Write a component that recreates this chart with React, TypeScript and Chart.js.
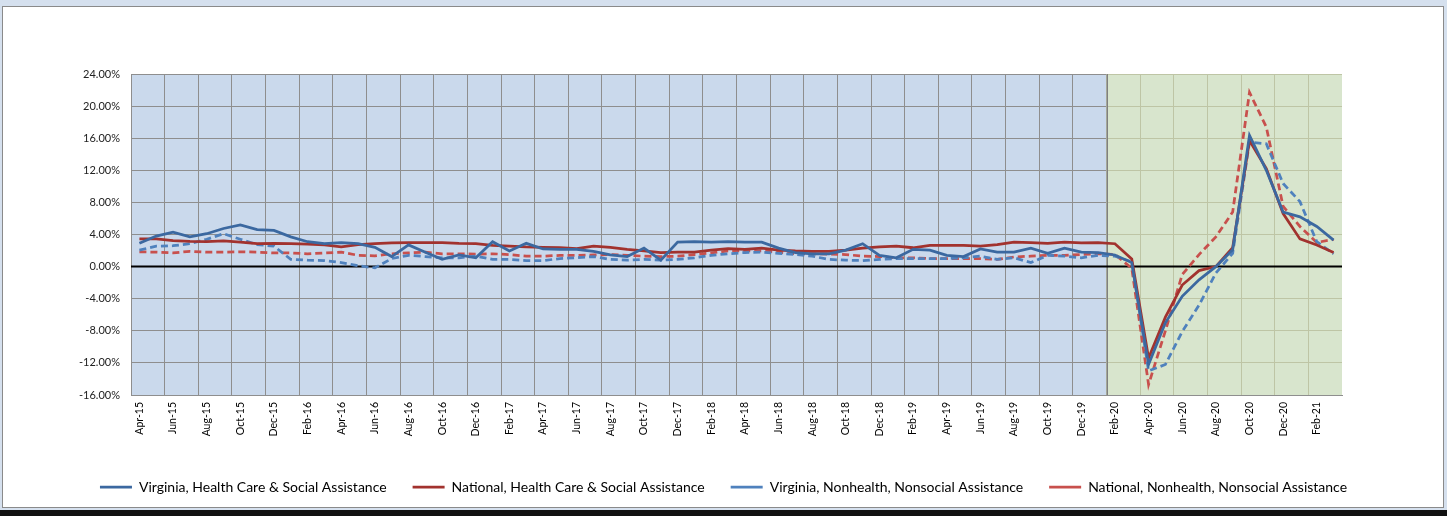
import React, { useEffect, useRef } from 'react';
import { Chart, registerables } from 'chart.js';

Chart.register(...registerables);

const categories: string[] = [
  'Apr-15','May-15','Jun-15','Jul-15','Aug-15','Sep-15','Oct-15','Nov-15','Dec-15',
  'Jan-16','Feb-16','Mar-16','Apr-16','May-16','Jun-16','Jul-16','Aug-16','Sep-16','Oct-16','Nov-16','Dec-16',
  'Jan-17','Feb-17','Mar-17','Apr-17','May-17','Jun-17','Jul-17','Aug-17','Sep-17','Oct-17','Nov-17','Dec-17',
  'Jan-18','Feb-18','Mar-18','Apr-18','May-18','Jun-18','Jul-18','Aug-18','Sep-18','Oct-18','Nov-18','Dec-18',
  'Jan-19','Feb-19','Mar-19','Apr-19','May-19','Jun-19','Jul-19','Aug-19','Sep-19','Oct-19','Nov-19','Dec-19',
  'Jan-20','Feb-20','Mar-20','Apr-20','May-20','Jun-20','Jul-20','Aug-20','Sep-20','Oct-20','Nov-20','Dec-20',
  'Jan-21','Feb-21','Mar-21',
];

const shadeStart = 'Feb-20';

const vaHealth: number[] = [
  2.9, 3.8, 4.3, 3.7, 4.1, 4.75, 5.2, 4.6, 4.5, 3.7, 3.1, 2.85, 3.0, 2.85, 2.4,
  1.25, 2.7, 1.8, 0.9, 1.45, 1.1, 3.1, 1.95, 2.9, 2.2, 2.15, 2.15, 1.9, 1.45,
  1.25, 2.3, 0.8, 3.05, 3.1, 3.05, 3.1, 3.05, 3.05, 2.3, 1.75, 1.6, 1.6, 2.05,
  2.85, 1.4, 1.1, 2.15, 2.05, 1.4, 1.25, 2.2, 1.8, 1.8, 2.3, 1.65, 2.3, 1.8, 1.75,
  1.45, 0.5, -12.2, -7.0, -3.7, -1.65, 0.0, 2.1, 16.35, 12.0, 6.8, 6.2, 5.0, 3.3,
];

const natHealth: number[] = [
  3.45, 3.45, 3.25, 3.15, 3.1, 3.2, 3.05, 2.85, 2.9, 2.85, 2.8, 2.7, 2.45, 2.75, 2.85,
  2.95, 3.0, 3.0, 3.0, 2.9, 2.85, 2.65, 2.55, 2.45, 2.4, 2.35, 2.25, 2.55, 2.4,
  2.15, 1.95, 1.75, 1.8, 1.8, 2.05, 2.25, 2.15, 2.3, 2.05, 1.95, 1.9, 1.9, 2.05,
  2.3, 2.45, 2.55, 2.35, 2.65, 2.65, 2.65, 2.55, 2.75, 3.05, 3.0, 2.9, 3.05, 2.95, 3.0,
  2.85, 0.95, -11.4, -6.3, -2.3, -0.5, 0.0, 2.35, 15.7, 12.2, 6.6, 3.45, 2.7, 1.75,
];

const vaNonhealth: number[] = [
  2.05, 2.55, 2.6, 2.85, 3.4, 4.1, 3.4, 2.75, 2.55, 0.9, 0.8, 0.75, 0.5, 0.1, -0.15,
  1.0, 1.4, 1.25, 1.1, 1.1, 1.3, 0.9, 0.9, 0.75, 0.75, 1.0, 1.1, 1.25, 0.9,
  0.8, 0.9, 0.8, 0.9, 1.1, 1.4, 1.6, 1.75, 1.8, 1.65, 1.5, 1.3, 0.9, 0.8,
  0.75, 0.9, 1.0, 1.0, 1.0, 1.0, 1.1, 1.3, 0.9, 1.1, 0.5, 1.4, 1.3, 1.1, 1.4,
  1.3, 0.6, -13.0, -12.2, -8.1, -4.8, -0.8, 1.65, 15.5, 15.3, 10.35, 8.1, 3.1, 1.6,
];

const natNonhealth: number[] = [
  1.85, 1.8, 1.7, 1.9, 1.8, 1.8, 1.85, 1.8, 1.7, 1.7, 1.6, 1.7, 1.8, 1.4, 1.35,
  1.6, 1.7, 1.8, 1.6, 1.6, 1.55, 1.6, 1.5, 1.3, 1.3, 1.4, 1.4, 1.45, 1.5,
  1.4, 1.3, 1.25, 1.3, 1.5, 1.7, 1.95, 1.95, 1.95, 1.8, 1.6, 1.6, 1.55, 1.5,
  1.3, 1.25, 1.1, 1.1, 1.0, 1.0, 1.0, 1.0, 0.9, 1.2, 1.3, 1.4, 1.4, 1.5, 1.6,
  1.5, -0.2, -14.7, -8.0, -1.0, 1.5, 3.7, 6.8, 21.7, 17.4, 7.5, 5.0, 3.0, 3.4,
];

const seriesNames = [
  'Virginia, Health Care & Social Assistance',
  'National, Health Care & Social Assistance',
  'Virginia, Nonhealth, Nonsocial Assistance',
  'National, Nonhealth, Nonsocial Assistance',
];

const yTicks = { min: -16, max: 24, step: 4 };

const BLUE_BG = '#CAD9EC';
const GREEN_OVERLAY = 'rgba(226,238,182,0.58)';
const GRID = '#8E8E8E';
const FONT = 'Lato, "Open Sans", sans-serif';

const regionPlugin = {
  id: 'regionShade',
  beforeDraw(chart: any) {
    const { ctx, chartArea: a } = chart;
    ctx.save();
    ctx.fillStyle = BLUE_BG;
    ctx.fillRect(a.left, a.top, a.right - a.left, a.bottom - a.top);
    ctx.restore();
  },
  beforeDatasetsDraw(chart: any) {
    const { ctx, chartArea: a } = chart;
    const x = chart.scales.x;
    const y = chart.scales.y;
    const idx = categories.indexOf(shadeStart);
    const bx = (x.getPixelForValue(idx - 1) + x.getPixelForValue(idx)) / 2;
    ctx.save();
    ctx.fillStyle = GREEN_OVERLAY;
    ctx.fillRect(bx, a.top, a.right - bx, a.bottom - a.top);
    ctx.strokeStyle = '#7f7f7f';
    ctx.lineWidth = 1;
    ctx.beginPath();
    ctx.moveTo(Math.round(bx) + 0.5, a.top);
    ctx.lineTo(Math.round(bx) + 0.5, a.bottom);
    ctx.stroke();
    const zy = y.getPixelForValue(0);
    ctx.strokeStyle = '#000';
    ctx.lineWidth = 2;
    ctx.beginPath();
    ctx.moveTo(a.left, zy);
    ctx.lineTo(a.right, zy);
    ctx.stroke();
    ctx.restore();
  },
};

export default function App() {
  const canvasRef = useRef<HTMLCanvasElement | null>(null);

  useEffect(() => {
    document.body.style.margin = '0';
    const canvas = canvasRef.current;
    if (!canvas) return;
    const mk = (label: string, data: number[], color: string, dash: number[]) => ({
      label,
      data,
      borderColor: color,
      backgroundColor: color,
      borderWidth: 2.75,
      borderDash: dash,
      pointRadius: 0,
      pointStyle: 'line',
      tension: 0,
      fill: false,
      yAxisID: 'y',
    });
    const chart = new Chart(canvas, {
      type: 'line',
      data: {
        labels: categories,
        datasets: [
          mk(seriesNames[0], vaHealth, '#3B68A0', []),
          mk(seriesNames[1], natHealth, '#A2322E', []),
          mk(seriesNames[2], vaNonhealth, '#4F81BD', [7, 4]),
          mk(seriesNames[3], natNonhealth, '#C8504D', [7, 4]),
        ],
      },
      options: {
        animation: false,
        responsive: false,
        maintainAspectRatio: false,
        layout: { padding: { left: 0, right: 0, top: 74, bottom: 12 } },
        plugins: {
          tooltip: { enabled: false },
          legend: {
            position: 'bottom',
            labels: {
              usePointStyle: true,
              pointStyleWidth: 32,
              padding: 26,
              color: '#000',
              font: { family: FONT, size: 14 },
            },
          },
        },
        scales: {
          x: {
            type: 'category',
            offset: true,
            grid: {
              offset: true,
              drawTicks: false,
              color: (c: any) => (c.index % 2 === 0 ? GRID : 'rgba(0,0,0,0)'),
              lineWidth: 1,
            },
            border: { color: GRID },
            ticks: {
              autoSkip: false,
              minRotation: 90,
              maxRotation: 90,
              padding: 7,
              color: '#000',
              font: { family: FONT, size: 10.5 },
              callback: (_v: any, i: number) => (i % 2 === 0 ? categories[i] : ''),
            },
            afterFit: (s: any) => { s.height = 59; },
          },
          y: {
            position: 'left',
            min: yTicks.min,
            max: yTicks.max,
            grid: { drawTicks: false, color: GRID, lineWidth: 1 },
            border: { color: GRID },
            ticks: {
              stepSize: yTicks.step,
              padding: 11,
              color: '#222',
              font: { family: FONT, size: 11 },
              callback: (v: any) => Number(v).toFixed(2) + '%',
            },
            afterFit: (s: any) => { s.width = 131; },
          },
          y2: {
            position: 'right',
            display: true,
            grid: { display: false, drawTicks: false },
            border: { display: false },
            ticks: { display: false },
            afterFit: (s: any) => { s.width = 105; },
          },
        },
      },
      plugins: [regionPlugin],
    } as any);
    return () => chart.destroy();
  }, []);

  return (
    <div style={{ position: 'relative', width: 1447, height: 516, background: '#D5E0EE', overflow: 'hidden' }}>
      <div
        style={{
          position: 'absolute', left: 2, top: 6, width: 1442, height: 502,
          boxSizing: 'border-box', border: '1px solid #8a8a8a', background: '#fff',
        }}
      />
      <div style={{ position: 'absolute', left: 0, top: 510, width: 1447, height: 6, background: '#111' }} />
      <canvas
        ref={canvasRef}
        width={1447}
        height={516}
        style={{ position: 'absolute', left: 0, top: 0, width: 1447, height: 516 }}
      />
    </div>
  );
}
